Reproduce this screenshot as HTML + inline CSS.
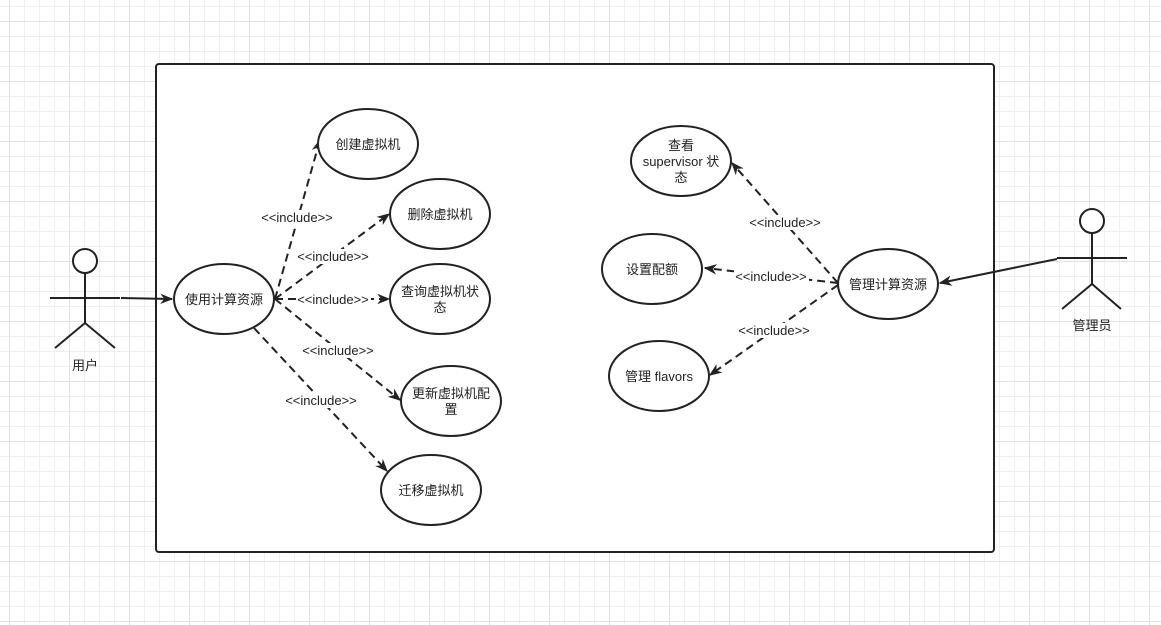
<!DOCTYPE html>
<html><head><meta charset="utf-8"><style>
html,body{margin:0;padding:0;}
body{width:1161px;height:625px;overflow:hidden;background:#fff;
background-image:
linear-gradient(#e2e2e2 1px,transparent 1px),linear-gradient(90deg,#e2e2e2 1px,transparent 1px),
linear-gradient(#efefef 1px,transparent 1px),linear-gradient(90deg,#efefef 1px,transparent 1px);
background-size:60px 60px,60px 60px,15px 15px,15px 15px;
background-position:0 21px,69px 0,0 6px,9px 0;}
svg{position:absolute;left:0;top:0;}
text{font-family:"Liberation Sans","Noto Sans CJK SC",sans-serif;font-size:13px;fill:#222;}
</style></head><body>
<svg width="1161" height="625" xmlns="http://www.w3.org/2000/svg">
<defs>
<marker id="a" viewBox="0 0 10 10" refX="9" refY="5" markerWidth="13" markerHeight="13" markerUnits="userSpaceOnUse" orient="auto"><path d="M0,1 L10,5 L0,9 L3,5 z" fill="#222"/></marker>
</defs>
<rect x="156" y="64" width="838" height="488" rx="3" fill="#fff" stroke="#222" stroke-width="2"/>
<g stroke="#222" stroke-width="2" fill="none">
<circle cx="85" cy="261" r="12" fill="#fff"/>
<line x1="85" y1="273" x2="85" y2="323"/><line x1="50" y1="298" x2="120" y2="298"/>
<line x1="85" y1="323" x2="55" y2="348"/><line x1="85" y1="323" x2="115" y2="348"/>
<circle cx="1092" cy="221" r="12" fill="#fff"/>
<line x1="1092" y1="233" x2="1092" y2="284"/><line x1="1057" y1="258" x2="1127" y2="258"/>
<line x1="1092" y1="284" x2="1062" y2="309"/><line x1="1092" y1="284" x2="1121" y2="309"/>
<line x1="121" y1="298" x2="172" y2="299" marker-end="url(#a)"/>
<line x1="1057" y1="259" x2="940" y2="283" marker-end="url(#a)"/>
<g stroke-dasharray="8,5">
<line x1="275" y1="299" x2="320" y2="140" marker-end="url(#a)"/>
<line x1="275" y1="299" x2="389" y2="214" marker-end="url(#a)"/>
<line x1="275" y1="299" x2="389" y2="299" marker-end="url(#a)"/>
<line x1="275" y1="299" x2="400" y2="400" marker-end="url(#a)"/>
<line x1="254" y1="328" x2="387" y2="471" marker-end="url(#a)"/>
<line x1="838" y1="283" x2="732" y2="163" marker-end="url(#a)"/>
<line x1="838" y1="283" x2="705" y2="268" marker-end="url(#a)"/>
<line x1="838" y1="285" x2="710" y2="375" marker-end="url(#a)"/>
</g>
<g fill="#fff">
<ellipse cx="368" cy="144" rx="50" ry="35"/>
<ellipse cx="440" cy="214" rx="50" ry="35"/>
<ellipse cx="440" cy="299" rx="50" ry="35"/>
<ellipse cx="451" cy="401" rx="50" ry="35"/>
<ellipse cx="431" cy="490" rx="50" ry="35"/>
<ellipse cx="224" cy="299" rx="50" ry="35"/>
<ellipse cx="681" cy="161" rx="50" ry="35"/>
<ellipse cx="652" cy="269" rx="50" ry="35"/>
<ellipse cx="659" cy="376" rx="50" ry="35"/>
<ellipse cx="888" cy="284" rx="50" ry="35"/>
</g>
</g>
<g text-anchor="middle">
<text x="368" y="149">创建虚拟机</text>
<text x="440" y="219">删除虚拟机</text>
<text x="440" y="296">查询虚拟机状</text><text x="440" y="312">态</text>
<text x="451" y="398">更新虚拟机配</text><text x="451" y="414">置</text>
<text x="431" y="495">迁移虚拟机</text>
<text x="224" y="304">使用计算资源</text>
<text x="681" y="150">查看</text><text x="681" y="166">supervisor 状</text><text x="681" y="182">态</text>
<text x="652" y="274">设置配额</text>
<text x="659" y="381">管理 flavors</text>
<text x="888" y="289">管理计算资源</text>
<text x="85" y="370">用户</text>
<text x="1092" y="330">管理员</text>
</g>
<g>
<rect x="260" y="210" width="75" height="15" fill="#fff"/>
<rect x="296" y="249" width="75" height="15" fill="#fff"/>
<rect x="296" y="292" width="75" height="15" fill="#fff"/>
<rect x="301" y="343" width="75" height="15" fill="#fff"/>
<rect x="284" y="393" width="75" height="15" fill="#fff"/>
<rect x="748" y="215" width="75" height="15" fill="#fff"/>
<rect x="734" y="269" width="75" height="15" fill="#fff"/>
<rect x="737" y="323" width="75" height="15" fill="#fff"/>
</g>
<g text-anchor="middle">
<text x="297" y="222">&lt;&lt;include&gt;&gt;</text>
<text x="333" y="261">&lt;&lt;include&gt;&gt;</text>
<text x="333" y="304">&lt;&lt;include&gt;&gt;</text>
<text x="338" y="355">&lt;&lt;include&gt;&gt;</text>
<text x="321" y="405">&lt;&lt;include&gt;&gt;</text>
<text x="785" y="227">&lt;&lt;include&gt;&gt;</text>
<text x="771" y="281">&lt;&lt;include&gt;&gt;</text>
<text x="774" y="335">&lt;&lt;include&gt;&gt;</text>
</g>
</svg>
</body></html>
